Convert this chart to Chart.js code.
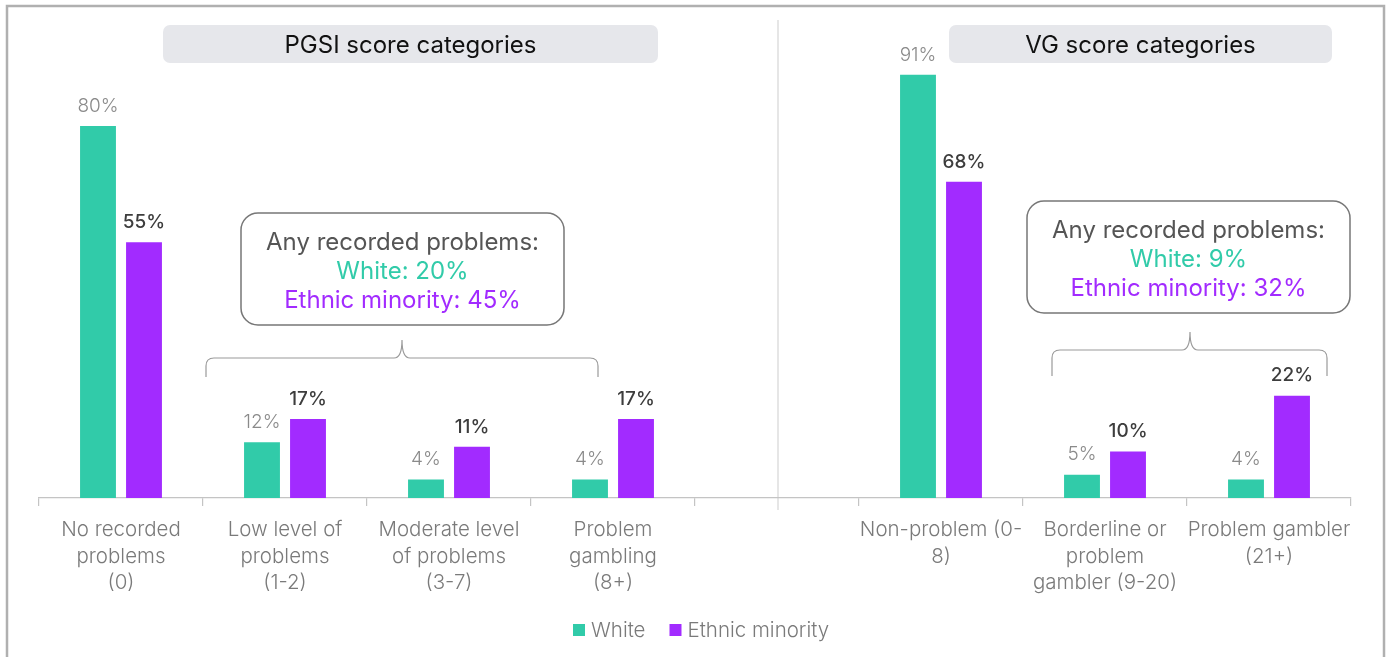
<!DOCTYPE html>
<html>
<head>
<meta charset="utf-8">
<script src="https://cdn.jsdelivr.net/npm/chart.js@4.4.1/dist/chart.umd.min.js"></script>
<style>
  html, body { margin: 0; padding: 0; background: #ffffff; }
  #wrap { width: 1392px; height: 657px; }
</style>
</head>
<body>
<div id="wrap"><canvas id="c" width="1392" height="657"></canvas></div>
<script>
// Categories: PGSI groups, an empty spacer slot, then VG groups
const categories = [
  ["No recorded", "problems", "(0)"],
  ["Low level of", "problems", "(1-2)"],
  ["Moderate level", "of problems", "(3-7)"],
  ["Problem", "gambling", "(8+)"],
  "",
  ["Non-problem (0-", "8)"],
  ["Borderline or", "problem", "gambler (9-20)"],
  ["Problem gambler", "(21+)"]
];
const seriesNames = ["White", "Ethnic minority"];
const whiteValues = [80, 12, 4, 4, null, 91, 5, 4];
const minorityValues = [55, 17, 11, 17, null, 68, 10, 22];

const panelTitles = ["PGSI score categories", "VG score categories"];
const summaryHeading = "Any recorded problems:";
const summaryWhite = ["White: 20%", "White: 9%"];
const summaryMinority = ["Ethnic minority: 45%", "Ethnic minority: 32%"];

const TEAL = "#31CBA9";
const PURPLE = "#A22BFF";

function roundRect(ctx, x, y, w, h, r) {
  ctx.beginPath();
  ctx.moveTo(x + r, y);
  ctx.lineTo(x + w - r, y);
  ctx.arcTo(x + w, y, x + w, y + r, r);
  ctx.lineTo(x + w, y + h - r);
  ctx.arcTo(x + w, y + h, x + w - r, y + h, r);
  ctx.lineTo(x + r, y + h);
  ctx.arcTo(x, y + h, x, y + h - r, r);
  ctx.lineTo(x, y + r);
  ctx.arcTo(x, y, x + r, y, r);
  ctx.closePath();
}

// Curly brace opening downward, tip pointing up at its middle
function brace(ctx, x1, x2, y, tipX, tipH, legH) {
  const r = 8;
  ctx.beginPath();
  ctx.moveTo(x1, y + legH);
  ctx.lineTo(x1, y + r);
  ctx.quadraticCurveTo(x1, y, x1 + r, y);
  ctx.lineTo(tipX - r, y);
  ctx.quadraticCurveTo(tipX, y, tipX, y - tipH);
  ctx.quadraticCurveTo(tipX, y, tipX + r, y);
  ctx.lineTo(x2 - r, y);
  ctx.quadraticCurveTo(x2, y, x2, y + r);
  ctx.lineTo(x2, y + legH);
  ctx.stroke();
}

const decorations = {
  id: "decorations",
  beforeDraw(chart) {
    const ctx = chart.ctx;
    const x = chart.scales.x;
    ctx.save();
    // outer frame
    ctx.strokeStyle = "#b0b0b0";
    ctx.lineWidth = 2.5;
    ctx.strokeRect(7, 6, 1377, 700);
    // divider between the two panels, in the middle of the spacer slot
    const mid = x.getPixelForValue(4);
    ctx.strokeStyle = "#e6e6e6";
    ctx.lineWidth = 2;
    ctx.beginPath();
    ctx.moveTo(mid + 1, 20);
    ctx.lineTo(mid + 1, 510);
    ctx.stroke();
    ctx.restore();
  },
  afterDatasetsDraw(chart) {
    const ctx = chart.ctx;
    ctx.save();
    // value labels above each bar
    chart.data.datasets.forEach((ds, di) => {
      const meta = chart.getDatasetMeta(di);
      meta.data.forEach((bar, i) => {
        const v = ds.data[i];
        if (v === null || v === undefined) return;
        ctx.font = di === 0 ? "300 19px Inter" : "500 19px Inter";
        ctx.fillStyle = di === 0 ? "#8a8a8a" : "#3d3d3d";
        ctx.textAlign = "center";
        ctx.textBaseline = "middle";
        ctx.fillText(v + "%", bar.x, bar.y - 20);
      });
    });

    // panel title boxes
    const titles = [
      { x: 163, w: 495, text: panelTitles[0] },
      { x: 949, w: 383, text: panelTitles[1] }
    ];
    titles.forEach(t => {
      ctx.fillStyle = "#e6e7eb";
      roundRect(ctx, t.x, 25, t.w, 38, 7);
      ctx.fill();
      ctx.fillStyle = "#111111";
      ctx.font = "400 24px Inter";
      ctx.textAlign = "center";
      ctx.textBaseline = "middle";
      ctx.fillText(t.text, t.x + t.w / 2, 46);
    });

    // summary call-outs
    const boxes = [
      { x: 241, y: 213, i: 0 },
      { x: 1027, y: 201, i: 1 }
    ];
    boxes.forEach(b => {
      const w = 323, h = 112;
      ctx.strokeStyle = "#777777";
      ctx.lineWidth = 1.5;
      roundRect(ctx, b.x, b.y, w, h, 17);
      ctx.stroke();
      const cx = b.x + w / 2;
      ctx.textAlign = "center";
      ctx.textBaseline = "middle";
      ctx.font = "400 24px Inter";
      ctx.fillStyle = "#555555";
      ctx.fillText(summaryHeading, cx, b.y + 30);
      ctx.fillStyle = TEAL;
      ctx.fillText(summaryWhite[b.i], cx, b.y + 59);
      ctx.fillStyle = PURPLE;
      ctx.fillText(summaryMinority[b.i], cx, b.y + 88);
    });

    // braces grouping the problem categories
    ctx.strokeStyle = "#9a9a9a";
    ctx.lineWidth = 1.2;
    brace(ctx, 206, 598, 358, 402, 18, 19);
    brace(ctx, 1052, 1327, 350, 1190, 18, 26);

    // legend
    ctx.font = "300 20.5px Inter";
    ctx.textBaseline = "middle";
    ctx.textAlign = "left";
    const ly = 630;
    let lx = 573;
    chart.data.datasets.forEach((ds, di) => {
      ctx.fillStyle = ds.backgroundColor;
      ctx.fillRect(lx, ly - 6, 12, 12);
      ctx.fillStyle = "#7a7a7a";
      ctx.fillText(ds.label, lx + 18, ly + 1);
      lx += 18 + ctx.measureText(ds.label).width + 24;
    });
    ctx.restore();
  }
};

new Chart(document.getElementById("c"), {
  type: "bar",
  data: {
    labels: categories,
    datasets: [
      { label: seriesNames[0], data: whiteValues, backgroundColor: TEAL },
      { label: seriesNames[1], data: minorityValues, backgroundColor: PURPLE }
    ]
  },
  options: {
    responsive: false,
    animation: false,
    events: [],
    categoryPercentage: 0.561,
    barPercentage: 0.78,
    layout: { padding: { left: 39, right: 41, top: 33, bottom: 0 } },
    plugins: { legend: { display: false }, tooltip: { enabled: false } },
    scales: {
      y: { display: false, min: 0, max: 100 },
      x: {
        afterFit(scale) { scale.height = 159; },
        border: { display: true, color: "#c4c4c4", width: 1.2 },
        grid: {
          offset: true,
          drawOnChartArea: false,
          drawTicks: true,
          tickLength: 8,
          color: "#c4c4c4",
          lineWidth: 1.2
        },
        ticks: {
          autoSkip: false,
          maxRotation: 0,
          padding: 11,
          color: "#7a7a7a",
          font: { family: "Inter", size: 20.5, weight: 300, lineHeight: 1.29 }
        }
      }
    }
  },
  plugins: [decorations]
});
</script>
</body>
</html>
